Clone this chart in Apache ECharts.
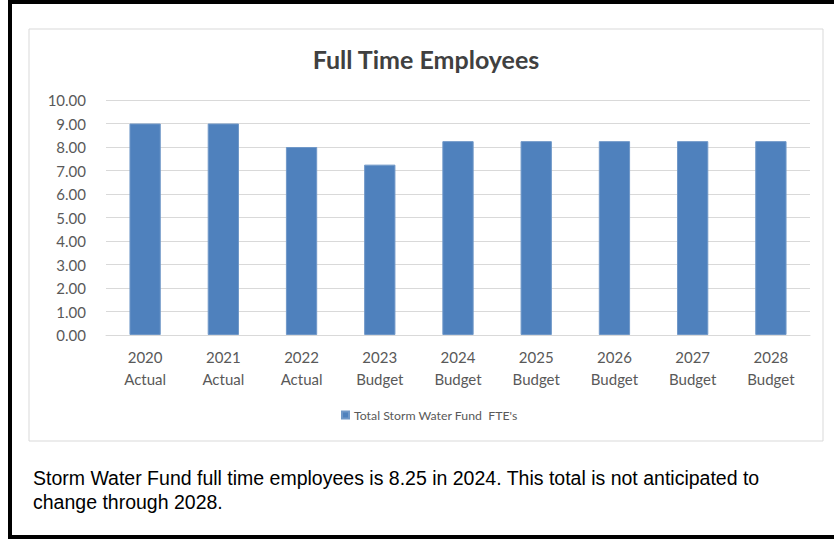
<!DOCTYPE html>
<html>
<head>
<meta charset="utf-8">
<style>
html,body{margin:0;padding:0;background:#fff;}
#c{width:834px;height:540px;}
</style>
<script src="https://cdn.jsdelivr.net/npm/echarts@6/dist/echarts.min.js"></script>
</head>
<body>
<div id="c"></div>
<script>
var categories = ["2020\nActual","2021\nActual","2022\nActual","2023\nBudget","2024\nBudget","2025\nBudget","2026\nBudget","2027\nBudget","2028\nBudget"];
var fteValues = [9, 9, 8, 7.25, 8.25, 8.25, 8.25, 8.25, 8.25];
var seriesName = "Total Storm Water Fund  FTE's";
var chartTitle = "Full Time Employees";
var noteLines = ["Storm Water Fund full time employees is 8.25 in 2024. This total is not anticipated to", "change through 2028."];

var chart = echarts.init(document.getElementById('c'), null, {renderer:'svg'});
var font = 'Lato, "Open Sans", "Noto Sans", sans-serif';
chart.setOption({
  animation:false,
  backgroundColor:'#fff',
  title:{text:chartTitle, left:421, textAlign:'center', top:41,
    textStyle:{fontFamily:font, fontSize:25, fontWeight:'bold', color:'#404040'}},
  grid:{left:106, right:24, top:100, bottom:205},
  legend:{data:[seriesName], left:336, top:404, itemWidth:7, itemHeight:7, icon:'rect', itemGap:5,
    textStyle:{fontFamily:font, fontSize:12.3, color:'#595959'}},
  xAxis:{type:'category', data:categories,
    axisLine:{lineStyle:{color:'#d9d9d9'}}, axisTick:{show:false},
    axisLabel:{fontFamily:font, fontSize:15, color:'#595959', lineHeight:22, margin:11, interval:0}},
  yAxis:{type:'value', min:0, max:10, interval:1,
    axisLabel:{fontFamily:font, fontSize:15, color:'#595959', margin:20, formatter:function(v){return v.toFixed(2);}},
    splitLine:{lineStyle:{color:'#d9d9d9'}}, axisLine:{show:false}, axisTick:{show:false}},
  series:[{name:seriesName, type:'bar', data:fteValues, barWidth:'40%',
    itemStyle:{color:'#4F81BD', borderColor:'#7098c8', borderWidth:1}}],
  graphic:[
    {type:'rect', shape:{x:10, y:2, width:830, height:535}, style:{fill:'none', stroke:'#000', lineWidth:4}, z:-1, silent:true},
    {type:'rect', shape:{x:29, y:29, width:794, height:412}, style:{fill:'none', stroke:'#d9d9d9', lineWidth:1}, z:-1, silent:true},
    {type:'text', left:33, top:466, style:{text:noteLines.join('\n'), fontFamily:'"Liberation Sans", Arial, sans-serif', fontSize:19.5, lineHeight:24, fill:'#000'}}
  ]
});
</script>
</body>
</html>
